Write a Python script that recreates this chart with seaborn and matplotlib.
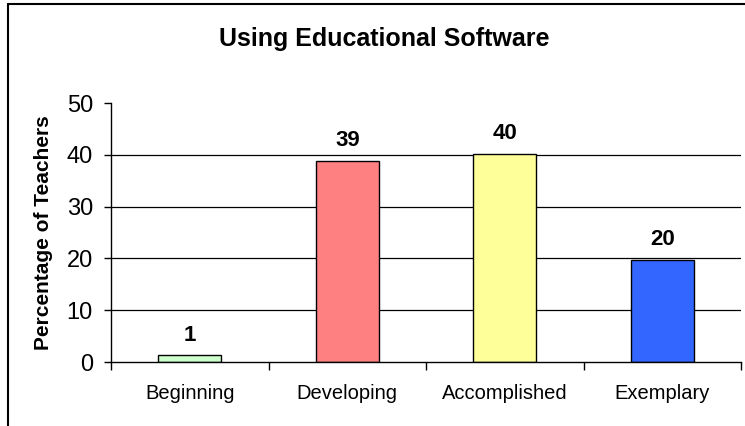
import matplotlib
matplotlib.use('Agg')
import matplotlib.pyplot as plt
import seaborn as sns
import pandas as pd
from matplotlib.lines import Line2D

# values
categories = ['Beginning', 'Developing', 'Accomplished', 'Exemplary']
percentages = [1.3, 38.9, 40.2, 19.8]
barLabels = ['1', '39', '40', '20']
barColors = ['#CCFFCC', '#FF8080', '#FFFF99', '#3366FF']
yTicks = [0, 10, 20, 30, 40, 50]

sns.set_style('white')
plt.rcParams['font.family'] = ['Liberation Sans', 'DejaVu Sans']
plt.rcParams['text.color'] = 'black'
plt.rcParams['xtick.color'] = 'black'
plt.rcParams['ytick.color'] = 'black'
plt.rcParams['axes.labelcolor'] = 'black'

df = pd.DataFrame({'level': categories, 'pct': percentages})

fig = plt.figure(figsize=(7.45, 4.26), dpi=100)
ax = fig.add_axes([0.149, 0.150, 0.846, 0.608])

sns.barplot(data=df, x='level', y='pct', hue='level', palette=barColors,
            width=0.4, edgecolor='black', linewidth=1.0, legend=False,
            saturation=1, ax=ax)

ax.set_ylim(0, 50)
ax.set_xlim(-0.5, 3.5)
ax.set_yticks(yTicks)
ax.set_yticklabels([str(t) for t in yTicks], fontsize=17)
for t in yTicks[1:-1]:
    ax.axhline(t, color='black', linewidth=0.9, zorder=0)

# category ticks sit between the bars
ax.set_xticks([-0.5, 0.5, 1.5, 2.5, 3.5], minor=False)
ax.set_xticklabels([])
ax.set_xticks([0, 1, 2, 3], minor=True)
ax.set_xticklabels(categories, minor=True, fontsize=14.5)
ax.tick_params(axis='x', which='major', direction='out', length=6, width=1, color='black', bottom=True)
ax.tick_params(axis='x', which='minor', length=0, pad=16)
ax.tick_params(axis='y', direction='out', length=5, width=1, color='black', left=True, pad=8)

ax.set_xlabel('')
ax.set_ylabel('Percentage of Teachers', fontsize=15, fontweight='bold', labelpad=10)

for side in ['top', 'right']:
    ax.spines[side].set_visible(False)
for side in ['left', 'bottom']:
    ax.spines[side].set_color('black')
    ax.spines[side].set_linewidth(1)

for i, lab in enumerate(barLabels):
    ax.annotate(lab, (i, percentages[i]), xytext=(0, 7), textcoords='offset points',
                ha='center', va='bottom', fontsize=16, fontweight='bold')

fig.text(0.516, 0.908, 'Using Educational Software', ha='center', va='center',
         fontsize=18, fontweight='bold')

# outer chart frame (left and top edges)
fig.add_artist(Line2D([0.011, 0.011], [0.0, 0.991], transform=fig.transFigure, color='black', linewidth=1.5))
fig.add_artist(Line2D([0.011, 1.0], [0.991, 0.991], transform=fig.transFigure, color='black', linewidth=1.5))

fig.savefig('out.png', dpi=100)
